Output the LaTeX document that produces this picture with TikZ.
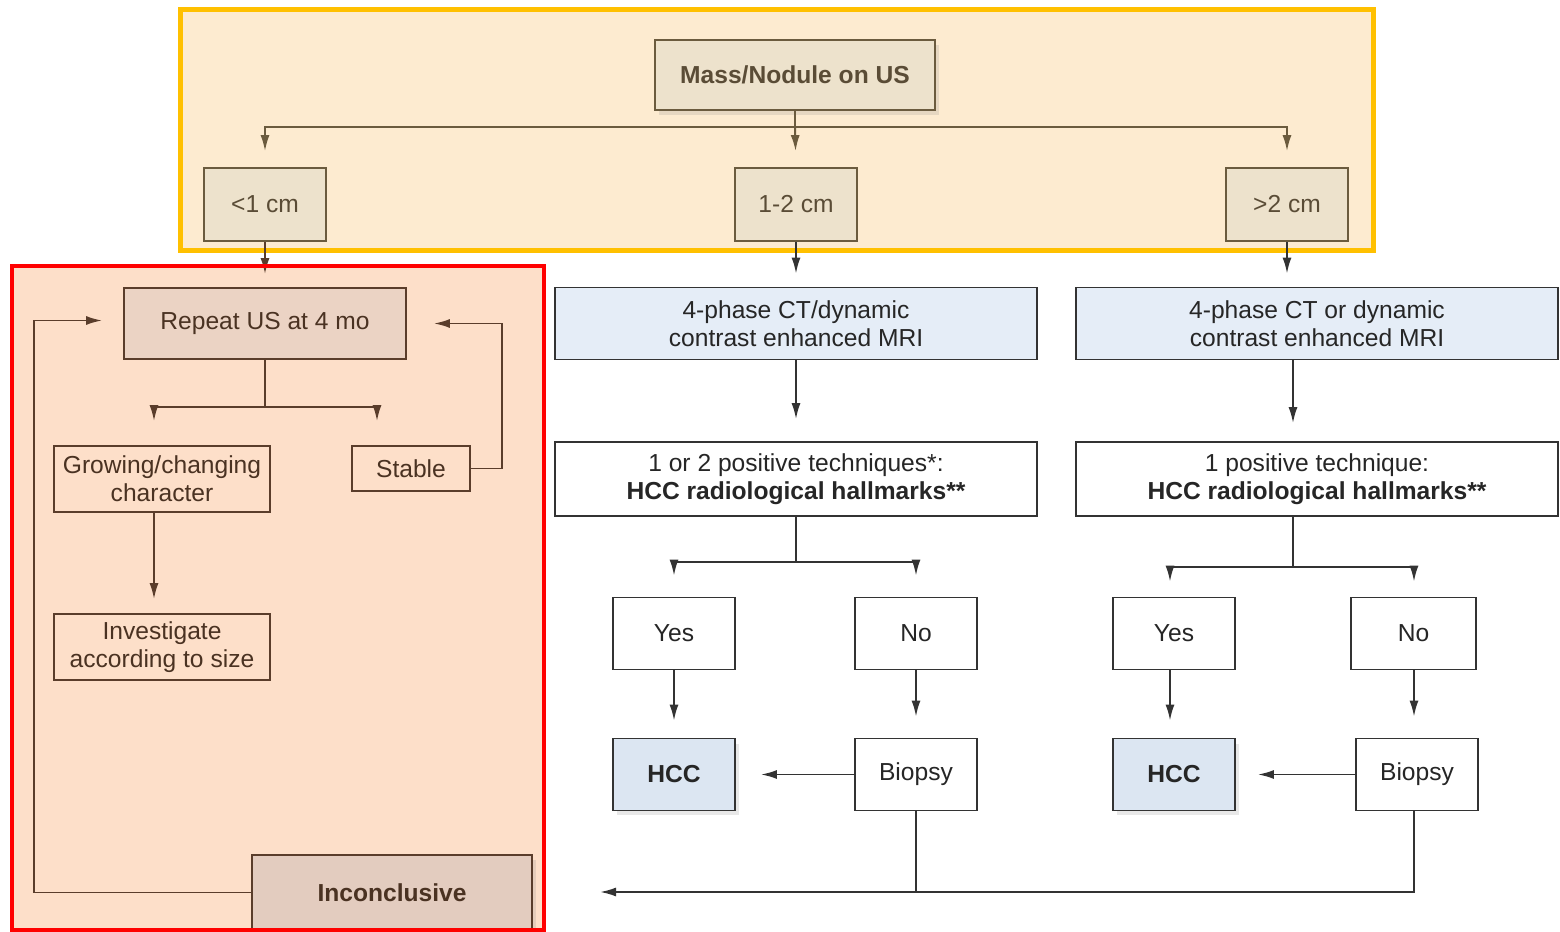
\documentclass[tikz,border=0pt]{standalone}
\usepackage{fontspec}
\setmainfont{Liberation Sans}
\usetikzlibrary{arrows.meta,shadows}

\definecolor{yframe}{HTML}{FFC000}
\definecolor{yfill}{HTML}{FDEBD0}
\definecolor{rfill}{HTML}{FDDFC9}
\definecolor{tanfill}{HTML}{EDE2CC}
\definecolor{tanline}{HTML}{6B5B3E}
\definecolor{tantext}{HTML}{5A4C36}
\definecolor{rosefill}{HTML}{EBD3C4}
\definecolor{incfill}{HTML}{E3CCBF}
\definecolor{brline}{HTML}{5A3D2B}
\definecolor{brtext}{HTML}{4A3222}
\definecolor{bluefill}{HTML}{E5EDF7}
\definecolor{hccfill}{HTML}{DCE6F2}
\definecolor{grline}{HTML}{333333}

\begin{document}
\begin{tikzpicture}
    [
        x=0.02cm, y=-0.02cm,
        box/.style = {draw, shape=rectangle, line width=1pt, inner sep=0pt, align=center, font=\fontsize{14}{16}\selectfont},
        bold/.style = {font=\fontsize{14}{16}\selectfont\bfseries},
        shade/.style = {drop shadow={shadow xshift=0.08cm, shadow yshift=-0.1cm, opacity=0.18}},
        tanbox/.style = {box, draw=tanline, fill=tanfill, text=tantext},
        brbox/.style = {box, draw=brline, text=brtext},
        gbox/.style = {box, draw=grline, fill=white, text=black!85},
        size/.style = {tanbox, minimum width=2.44cm, minimum height=1.46cm},
        small/.style = {gbox, minimum width=2.44cm, minimum height=1.44cm},
        wide/.style = {gbox, minimum width=9.64cm, minimum height=1.44cm},
        tanln/.style = {draw=tanline, line width=1.1pt},
        brln/.style = {draw=brline, line width=1.1pt},
        grln/.style = {draw=grline, line width=1.1pt},
        tip/.style = {-{Latex[length=0.32cm,width=0.18cm]}, shorten >=0.4cm},
    ]

    \useasboundingbox (0,0) rectangle (1560,932);

    \filldraw[fill=yfill, draw=yframe, line width=0.1cm] (180,10) rectangle (1373,251);
    \fill[rfill] (12,266) rectangle (544,930);

    \node[tanbox, shade, bold, minimum width=5.6cm, minimum height=1.4cm] (mass) at (795,75) {Mass/Nodule on US};

    \node[size] (s0) at (265,204.5) {<1 cm};
    \node[size] (s1) at (796,204.5) {1-2 cm};
    \node[size] (s2) at (1287,204.5) {>2 cm};

    \node[brbox, fill=rosefill, minimum width=5.64cm, minimum height=1.42cm] (rep) at (265,323.5) {Repeat US at 4 mo};
    \node[brbox, minimum width=4.32cm, minimum height=1.32cm] (grow) at (162,479) {Growing/changing\\character};
    \node[brbox, minimum width=2.36cm, minimum height=0.9cm] (stab) at (411,468.5) {Stable};
    \node[brbox, minimum width=4.32cm, minimum height=1.32cm] (inv) at (162,647) {Investigate\\according to size};
    \node[brbox, shade, bold, fill=incfill, minimum width=5.6cm, minimum height=1.5cm] (inc) at (392,892.5) {Inconclusive};

    \node[wide, fill=bluefill] (ct1) at (796,323.5) {4-phase CT/dynamic\\contrast enhanced MRI};
    \node[wide, fill=bluefill] (ct2) at (1317,323.5) {4-phase CT or dynamic\\contrast enhanced MRI};

    \node[wide, minimum height=1.48cm] (p1) at (796,479) {1 or 2 positive techniques*:\\\textbf{HCC radiological hallmarks**}};
    \node[wide, minimum height=1.48cm] (p2) at (1317,479) {1 positive technique:\\\textbf{HCC radiological hallmarks**}};

    \node[small] (y1) at (674,633.5) {Yes};
    \node[small] (n1) at (916,633.5) {No};
    \node[small] (y2) at (1174,633.5) {Yes};
    \node[small, minimum width=2.5cm] (n2) at (1413.5,633.5) {No};

    \node[small, shade, bold, fill=hccfill] (h1) at (674,774.5) {HCC};
    \node[small] (b1) at (916,774.5) {Biopsy};
    \node[small, shade, bold, fill=hccfill] (h2) at (1174,774.5) {HCC};
    \node[small] (b2) at (1417,774.5) {Biopsy};

    \coordinate (j0) at (795,127);
    \coordinate (j1) at (265,407);
    \coordinate (j2) at (796,562);
    \coordinate (j3) at (1293,567);
    \coordinate (back) at (600,892);

    \draw[tanln] (mass.south) -- (j0);
    \draw[tanln, tip, shorten >=0.32cm] (j0) -| (s0.north);
    \draw[tanln, tip, shorten >=0.32cm] (j0) -- (s1.north);
    \draw[tanln, tip, shorten >=0.32cm] (j0) -| (s2.north);

    \draw[brln, tip, shorten >=0.26cm] (s0.south) -- (rep.north);
    \draw[brln] (rep.south) -- (j1);
    \draw[brln, tip, shorten >=0.48cm] (j1) -| (grow.north -| 154,0);
    \draw[brln, tip, shorten >=0.48cm] (j1) -| (stab.north -| 377,0);
    \draw[brln, tip, shorten >=0.28cm] (grow.south -| 154,0) -- (inv.north -| 154,0);
    \draw[brln, tip, shorten >=0.54cm] (stab.east) -- (stab.east -| 502,0) |- (rep.east);
    \draw[brln, tip, shorten >=0.42cm] (inc.west) -- (inc.west -| 34,0) |- ([yshift=0.06cm]rep.west);

    \draw[grln, tip, shorten >=0.26cm] (s1.south) -- (ct1.north);
    \draw[grln, tip, shorten >=0.26cm] (s2.south) -- (s2.south |- ct2.north);
    \draw[grln, tip, shorten >=0.44cm] (ct1.south) -- (p1.north);
    \draw[grln, tip, shorten >=0.36cm] (ct2.south -| j3) -- (p2.north -| j3);

    \draw[grln] (p1.south) -- (j2);
    \draw[grln, tip, shorten >=0.42cm] (j2) -| (y1.north);
    \draw[grln, tip, shorten >=0.42cm] (j2) -| (n1.north);
    \draw[grln] (p2.south -| j3) -- (j3);
    \draw[grln, tip, shorten >=0.3cm] (j3) -| (y2.north -| 1170,0);
    \draw[grln, tip, shorten >=0.3cm] (j3) -| (n2.north -| 1414,0);

    \draw[grln, tip, shorten >=0.34cm] (y1.south) -- (h1.north);
    \draw[grln, tip, shorten >=0.42cm] (n1.south) -- (b1.north);
    \draw[grln, tip, shorten >=0.34cm] (y2.south -| 1170,0) -- (h2.north -| 1170,0);
    \draw[grln, tip, shorten >=0.42cm] (n2.south -| 1414,0) -- (b2.north -| 1414,0);

    \draw[grln, tip, shorten >=0.5cm] (b1.west) -- (h1.east);
    \draw[grln, tip, shorten >=0.44cm] (b2.west) -- (h2.east);

    \draw[grln] (b1.south) -- (b1.south |- back);
    \draw[grln, tip, shorten >=0pt] (b2.south -| 1414,0) |- (back);

    \draw[red, line width=0.08cm] (12,266) rectangle (544,930);
\end{tikzpicture}
\end{document}
